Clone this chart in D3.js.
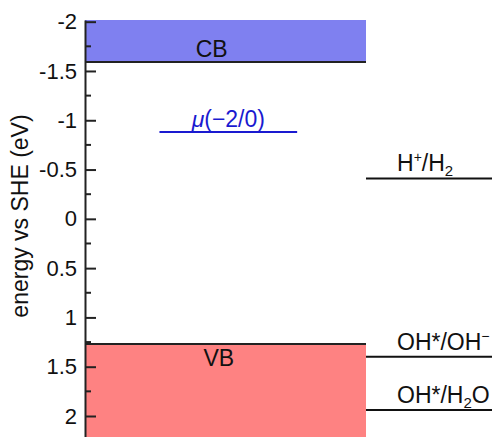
<!DOCTYPE html>
<meta charset="utf-8">
<script src="https://d3js.org/d3.v7.min.js"></script>
<style>
  body { margin: 0; background: #fff; }
  text { font-family: "Liberation Sans", Arial, sans-serif; fill: #111; }
</style>
<div id="base"></div>
<script>
    // band edges (eV vs SHE)
    var cbEdge = -1.59,
        vbEdge = 1.27;

    // defect level
    var muLabel = "(\u22122/0)",
        muValue = -0.88;

    // redox potentials
    var redoxNames = ["H+/H2", "OH*/OH-", "OH*/H2O"];
    var redoxValues = [-0.41, 1.40, 1.94];

    // tick labels
    var majorTicks = [-2, -1.5, -1, -0.5, 0, 0.5, 1, 1.5, 2];
    var majorLabels = ["-2", "-1.5", "-1", "-0.5", "0", "0.5", "1", "1.5", "2"];
    var minorTicks = [-1.75, -1.25, -0.75, -0.25, 0.25, 0.75, 1.25, 1.75];

    var width = 492,
        height = 437,
        axisX = 85,
        bandRight = 366;

    var svg = d3.select("#base")
        .append("svg")
        .attr("width", width)
        .attr("height", height);

    var y = d3.scaleLinear()
        .domain([-2.017, 2.213])
        .range([20, 437]);

    // material column, 0..1 across the band area
    var x = d3.scaleLinear()
        .domain([0, 1])
        .range([axisX, bandRight]);

    // conduction band
    svg.append("rect")
        .attr("x", x(0))
        .attr("y", y(-2.017))
        .attr("width", x(1) - x(0))
        .attr("height", y(cbEdge) - y(-2.017))
        .style("fill", "#7f80f0");

    // valence band
    svg.append("rect")
        .attr("x", x(0))
        .attr("y", y(vbEdge))
        .attr("width", x(1) - x(0))
        .attr("height", y(2.213) - y(vbEdge))
        .style("fill", "#fe8282");

    svg.append("line")
        .attr("x1", x(0)).attr("x2", x(1))
        .attr("y1", y(cbEdge)).attr("y2", y(cbEdge))
        .style("stroke", "#222").style("stroke-width", 2);

    svg.append("line")
        .attr("x1", x(0)).attr("x2", x(1))
        .attr("y1", y(vbEdge)).attr("y2", y(vbEdge))
        .style("stroke", "#222").style("stroke-width", 2);

    svg.append("text")
        .attr("x", x(0.451))
        .attr("y", y(cbEdge) - 5)
        .attr("text-anchor", "middle")
        .attr("font-size", "23px")
        .text("CB");

    svg.append("text")
        .attr("x", x(0.476))
        .attr("y", y(vbEdge) + 22)
        .attr("text-anchor", "middle")
        .attr("font-size", "23px")
        .text("VB");

    // mu(-2/0) level
    svg.append("line")
        .attr("x1", x(0.265)).attr("x2", x(0.755))
        .attr("y1", y(muValue)).attr("y2", y(muValue))
        .style("stroke", "#1a1ad0").style("stroke-width", 2);

    var mu = svg.append("text")
        .attr("x", x(0.51))
        .attr("y", y(muValue) - 5)
        .attr("text-anchor", "middle")
        .attr("font-size", "23px")
        .style("fill", "#1a1ad0");
    mu.append("tspan").attr("font-style", "italic").style("fill", "#1a1ad0").text("\u03bc");
    mu.append("tspan").style("fill", "#1a1ad0").text(muLabel);

    // redox lines
    var redox = svg.append("g");
    redoxValues.forEach(function (v, i) {
        redox.append("line")
            .attr("x1", bandRight).attr("x2", width)
            .attr("y1", y(v)).attr("y2", y(v))
            .style("stroke", "#111").style("stroke-width", 2);

        var t = redox.append("text")
            .attr("x", 397)
            .attr("y", y(v) - 7)
            .attr("font-size", "23px");
        var name = redoxNames[i];
        if (name == "H+/H2") {
            t.append("tspan").text("H");
            t.append("tspan").attr("font-size", "14px").attr("dy", -9).text("+");
            t.append("tspan").attr("dy", 9).text("/H");
            t.append("tspan").attr("font-size", "15px").attr("dy", 5).text("2");
        } else if (name == "OH*/OH-") {
            t.append("tspan").text("OH*/OH");
            t.append("tspan").attr("font-size", "14px").attr("dy", -9).text("\u2212");
        } else {
            t.append("tspan").text("OH*/H");
            t.append("tspan").attr("font-size", "15px").attr("dy", 5).text("2");
            t.append("tspan").attr("dy", -5).text("O");
        }
    });

    // y axis, ticks pointing inward
    var axis = svg.append("g")
        .attr("transform", "translate(" + axisX + ",0)");

    axis.call(d3.axisLeft(y)
        .tickValues(majorTicks)
        .tickFormat(function (d, i) { return majorLabels[i]; })
        .tickSizeInner(-11)
        .tickSizeOuter(0)
        .tickPadding(8));

    axis.selectAll(".tick line").style("stroke", "#222").style("stroke-width", 2);
    axis.selectAll(".tick text")
        .style("font-family", "Liberation Sans, Arial, sans-serif")
        .style("font-size", "22px")
        .style("fill", "#111");
    axis.select(".domain").style("stroke", "#222").style("stroke-width", 2);

    axis.selectAll(".minor")
        .data(minorTicks)
        .enter()
        .append("line")
        .attr("class", "minor")
        .attr("x1", 0).attr("x2", 6)
        .attr("y1", function (d) { return y(d); })
        .attr("y2", function (d) { return y(d); })
        .style("stroke", "#222").style("stroke-width", 2);

    svg.append("text")
        .attr("transform", "translate(28," + 216 + ") rotate(-90)")
        .attr("text-anchor", "middle")
        .attr("font-size", "23px")
        .text("energy vs SHE (eV)");
</script>
